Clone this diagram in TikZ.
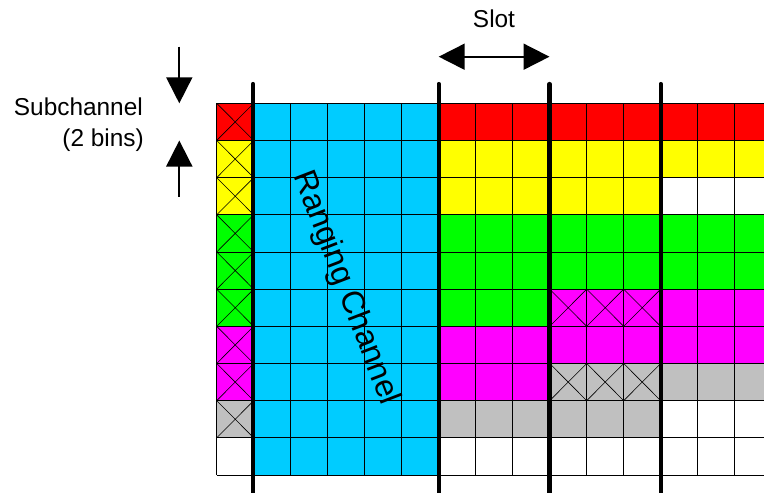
\documentclass[tikz,border=0pt]{standalone}
\usepackage{fontspec}
\setmainfont{Liberation Sans}
\usetikzlibrary{arrows.meta}
\definecolor{ccred}{HTML}{FF0000}
\definecolor{ccyellow}{HTML}{FFFF00}
\definecolor{ccgreen}{HTML}{00FF00}
\definecolor{ccmag}{HTML}{FF00FF}
\definecolor{ccgray}{HTML}{C0C0C0}
\definecolor{ccblue}{HTML}{00CCFF}
\begin{document}
\begin{tikzpicture}[x=1pt,y=-1pt,
  gridline/.style={black,line width=0.9pt},
  xmark/.style={black,line width=0.6pt},
  slotline/.style={black,line width=4.2pt,line cap=round},
  bigarrow/.style={line width=1.8pt,-{Triangle[length=26pt,width=26pt]}},
  dblarrow/.style={line width=1.8pt,{Triangle[length=26pt,width=26pt]}-{Triangle[length=26pt,width=26pt]}},
  lbl/.style={inner sep=0pt,font=\fontsize{24.4}{30}\selectfont},
]
\clip (0,0) rectangle (764,493);
\fill[white] (0,0) rectangle (764,493);
\def\xo{216.7}
\def\yo{103.3}
\def\cw{37}
\def\rh{37.17}
% column 0
\foreach \c [count=\r from 0] in {ccred,ccyellow,ccyellow,ccgreen,ccgreen,ccgreen,ccmag,ccmag,ccgray,white}
  \fill[\c] (\xo,\yo+\r*\rh) rectangle ++(\cw,\rh);
% ranging channel
\fill[ccblue] (\xo+\cw,\yo) rectangle ++(5*\cw,10*\rh);
% slot 1 (cols 6-8)
\foreach \c [count=\r from 0] in {ccred,ccyellow,ccyellow,ccgreen,ccgreen,ccgreen,ccmag,ccmag,ccgray,white}
  \fill[\c] (\xo+6*\cw,\yo+\r*\rh) rectangle ++(3*\cw,\rh);
% slot 2 (cols 9-11)
\foreach \c [count=\r from 0] in {ccred,ccyellow,ccyellow,ccgreen,ccgreen,ccmag,ccmag,ccgray,ccgray,white}
  \fill[\c] (\xo+9*\cw,\yo+\r*\rh) rectangle ++(3*\cw,\rh);
% slot 3 (cols 12-14)
\foreach \c [count=\r from 0] in {ccred,ccyellow,white,ccgreen,ccgreen,ccmag,ccmag,ccgray,white,white}
  \fill[\c] (\xo+12*\cw,\yo+\r*\rh) rectangle ++(3*\cw,\rh);
% crossed cells
\foreach \r in {0,...,8}
  \draw[xmark] (\xo,\yo+\r*\rh) -- ++(\cw,\rh) (\xo+\cw,\yo+\r*\rh) -- ++(-\cw,\rh);
\foreach \k in {9,10,11}
  \foreach \r in {5,7}
    \draw[xmark] (\xo+\k*\cw,\yo+\r*\rh) -- ++(\cw,\rh) (\xo+\k*\cw+\cw,\yo+\r*\rh) -- ++(-\cw,\rh);
% grid lines
\foreach \i in {0,...,15}
  \draw[gridline] (\xo+\i*\cw,\yo) -- ++(0,10*\rh);
\foreach \j in {0,...,10}
  \draw[gridline] (\xo,\yo+\j*\rh) -- (\xo+15*\cw,\yo+\j*\rh);
% slot boundaries
\foreach \x in {253,438.7,549.5,660.7}
  \draw[slotline] (\x,84) -- (\x,510);
% labels
\node[lbl,rotate=-69] (rc) at (345.5,288) {\fontsize{32}{34}\selectfont Ranging Channel};
\node[lbl,anchor=base east] (sub1) at (143,115) {Subchannel};
\node[lbl,anchor=base east] (sub2) at (144,146) {(2 bins)};
\node[lbl,anchor=base] (slot) at (494,27.3) {Slot};
% arrows
\coordinate (dnA) at (179.3,46.7);
\coordinate (dnB) at (179.3,103.3);
\coordinate (upA) at (179.3,196.7);
\coordinate (upB) at (179.3,140.5);
\coordinate (slL) at (438.7,56.7);
\coordinate (slR) at (549.5,56.7);
\draw[bigarrow] (dnA) -- (dnB);
\draw[bigarrow] (upA) -- (upB);
\draw[dblarrow] (slL) -- (slR);
\end{tikzpicture}
\end{document}
